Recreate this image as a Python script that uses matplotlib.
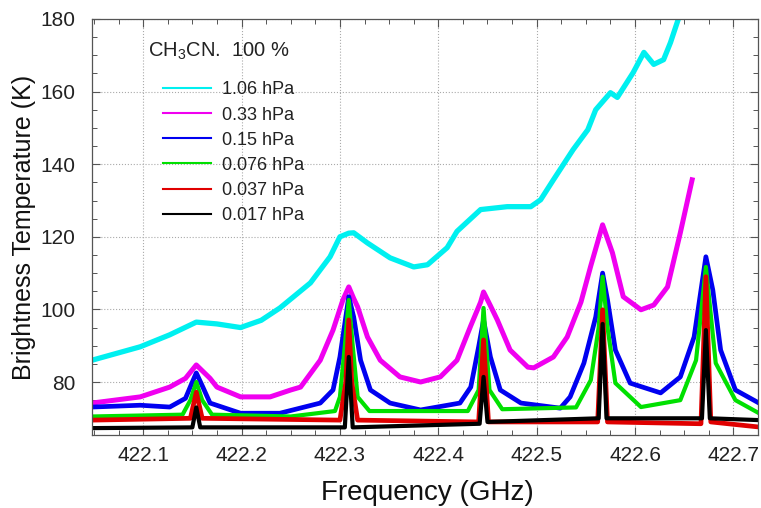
import numpy as np
import matplotlib
matplotlib.use("Agg")
import matplotlib.pyplot as plt
from matplotlib.ticker import MultipleLocator

plt.rcParams['font.family'] = ['Liberation Sans', 'DejaVu Sans']
plt.rcParams['mathtext.default'] = 'regular'

# Spectra: frequency (GHz) and brightness temperature (K)
labels = ['1.06 hPa', '0.33 hPa', '0.15 hPa', '0.076 hPa', '0.037 hPa', '0.017 hPa']
colors = ['#00f0f0', '#f000f0', '#0000f0', '#00e000', '#e00000', '#000000']

f_cyan = [422.048, 422.097, 422.127, 422.154, 422.175, 422.199, 422.220, 422.239,
          422.270, 422.290, 422.300, 422.309, 422.314, 422.328, 422.351, 422.375,
          422.389, 422.409, 422.419, 422.443, 422.470, 422.494, 422.504, 422.517,
          422.537, 422.552, 422.560, 422.575, 422.582, 422.598, 422.609, 422.619,
          422.629, 422.636, 422.644, 422.652]
t_cyan = [86.0, 89.7, 93.0, 96.5, 96.0, 95.0, 97.0, 100.4,
          107.3, 114.5, 120.0, 121.0, 121.1, 118.3, 114.2, 111.7,
          112.3, 117.0, 121.5, 127.5, 128.3, 128.3, 130.2, 135.7,
          144.0, 149.5, 155.0, 159.7, 158.4, 165.2, 170.8, 167.5,
          168.8, 173.5, 180.0, 186.0]

f_mag = [422.048, 422.097, 422.127, 422.143, 422.154, 422.168, 422.175, 422.199,
         422.229, 422.250, 422.260, 422.280, 422.293, 422.303, 422.309, 422.314,
         422.318, 422.328, 422.341, 422.361, 422.382, 422.402, 422.419, 422.433,
         422.443, 422.446, 422.453, 422.460, 422.473, 422.491, 422.497, 422.517,
         422.531, 422.545, 422.555, 422.567, 422.577, 422.588, 422.606, 422.619,
         422.633, 422.646, 422.658]
t_mag = [74.2, 75.9, 78.6, 81.0, 84.7, 81.0, 78.6, 75.9,
         75.9, 77.8, 78.6, 86.0, 94.3, 102.6, 106.2, 103.0,
         100.7, 92.4, 86.0, 81.4, 80.0, 81.4, 86.0, 95.5,
         102.0, 104.8, 101.0, 97.1, 88.8, 84.1, 83.9, 86.9,
         92.4, 102.0, 112.0, 123.3, 115.6, 103.5, 99.9, 101.2,
         106.2, 121.1, 135.7]

f_blue = [422.048, 422.097, 422.127, 422.143, 422.150, 422.154, 422.160, 422.168,
          422.199, 422.239, 422.280, 422.293, 422.300, 422.309, 422.314, 422.321,
          422.331, 422.351, 422.382, 422.422, 422.433, 422.441, 422.446, 422.453,
          422.463, 422.484, 422.524, 422.534, 422.548, 422.560, 422.567, 422.572,
          422.580, 422.595, 422.626, 422.646, 422.660, 422.672, 422.679, 422.687,
          422.702, 422.726]
t_blue = [73.1, 73.6, 73.1, 75.5, 80.0, 82.5, 79.0, 74.2,
          71.4, 71.4, 74.2, 77.8, 86.9, 103.5, 97.9, 86.0,
          77.8, 74.2, 72.3, 74.2, 78.6, 89.7, 97.1, 86.9,
          77.8, 74.2, 72.8, 75.9, 85.2, 97.9, 110.0, 102.6,
          88.8, 79.7, 77.0, 81.4, 92.4, 114.5, 105.4, 88.8,
          77.8, 74.2]

f_green = [422.048, 422.140, 422.148, 422.154, 422.160, 422.170, 422.250, 422.295,
           422.300, 422.305, 422.309, 422.313, 422.318, 422.330, 422.430, 422.441,
           422.446, 422.452, 422.465, 422.540, 422.555, 422.563, 422.567, 422.572,
           422.580, 422.606, 422.646, 422.662, 422.672, 422.682, 422.702, 422.726]
t_green = [70.5, 71.0, 75.0, 80.0, 75.0, 71.0, 70.5, 72.0,
           75.9, 90.0, 102.6, 90.0, 75.9, 72.0, 72.0, 77.8,
           100.4, 77.8, 72.5, 73.0, 80.5, 95.0, 109.0, 95.0,
           79.7, 73.1, 75.0, 86.0, 111.7, 85.2, 75.0, 71.4]

f_red = [422.048, 422.148, 422.154, 422.160, 422.300, 422.306, 422.309, 422.312,
         422.318, 422.441, 422.446, 422.451, 422.562, 422.567, 422.572, 422.667,
         422.672, 422.677, 422.726]
t_red = [69.5, 70.0, 77.2, 70.0, 69.5, 80.0, 97.1, 80.0,
         69.5, 69.0, 91.6, 69.0, 69.0, 99.9, 69.0, 68.5,
         109.0, 69.0, 67.6]

f_black = [422.048, 422.150, 422.154, 422.158, 422.305, 422.309, 422.313, 422.442,
           422.446, 422.450, 422.563, 422.567, 422.571, 422.668, 422.672, 422.676,
           422.726]
t_black = [67.3, 67.5, 73.0, 67.5, 67.5, 86.9, 67.5, 68.5,
           81.4, 69.0, 70.0, 96.0, 70.0, 70.0, 94.3, 70.0,
           69.5]

series = [(f_cyan, t_cyan), (f_mag, t_mag), (f_blue, t_blue),
          (f_green, t_green), (f_red, t_red), (f_black, t_black)]
widths = [3.8, 3.6, 3.4, 3.0, 3.4, 3.0]

fig = plt.figure(figsize=(7.61, 5.08), dpi=100)
ax = fig.add_axes([0.1209, 0.1437, 0.8752, 0.8189])

for (f, t), c, lab, w in zip(series, colors, labels, widths):
    ax.plot(f, t, color=c, lw=w, label=lab, solid_joinstyle='round')

ax.set_xlim(422.048, 422.725)
ax.set_ylim(65.4, 180)
ax.xaxis.set_major_locator(MultipleLocator(0.1))
ax.xaxis.set_minor_locator(MultipleLocator(0.025))
ax.yaxis.set_major_locator(MultipleLocator(20))
ax.yaxis.set_minor_locator(MultipleLocator(5))
ax.xaxis.set_major_formatter(plt.FuncFormatter(lambda v, p: f"{v:.1f}"))

ax.tick_params(which='both', direction='in', top=True, right=True, colors='#555555',
               labelcolor='#222222', labelsize=15)
ax.tick_params(which='major', length=6, width=0.8)
ax.tick_params(which='minor', length=3.5, width=0.7)
ax.tick_params(axis='y', pad=12)
ax.tick_params(axis='x', pad=8)
for s in ax.spines.values():
    s.set_color('#555555')
    s.set_linewidth(0.9)
ax.grid(True, which='major', ls=':', color='#aaaaaa', lw=0.8)

fig.text(24 / 761, 0.553, 'Brightness Temperature (K)', rotation=90, fontsize=18,
         ha='center', va='center', color='#111111')
fig.text(427 / 761, 1 - 493 / 508, 'Frequency (GHz)', fontsize=20,
         ha='center', va='center', color='#111111')

fig.text(148 / 761, 1 - 57 / 508, 'CH$_3$CN.  100 %', fontsize=14.5, color='#222222',
         va='baseline')
leg = ax.legend(loc='upper left', bbox_to_anchor=(0.1066, 0.850), frameon=False,
                fontsize=13, handlelength=2.65, handletextpad=0.6,
                labelspacing=0.45, borderpad=0, borderaxespad=0)
for line in leg.get_lines():
    line.set_linewidth(1.5)
for txt in leg.get_texts():
    txt.set_color('#222222')

fig.savefig('out.png', dpi=100)
